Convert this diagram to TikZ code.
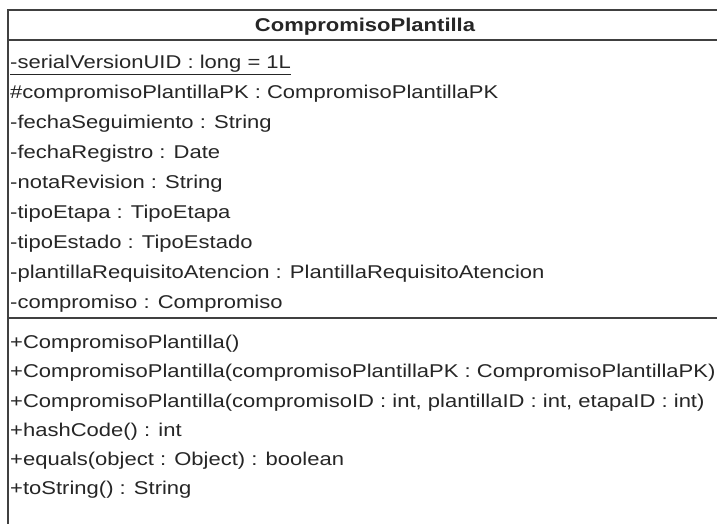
\documentclass[tikz,border=0pt]{standalone}
\usepackage{fontspec}
\setmainfont[FakeStretch=1.19]{Liberation Sans}
\usepackage{tikz}

\tikzset{
  member/.style={anchor=base west,inner sep=0pt,text=black!85},
  rule/.style={line width=1.6pt,draw=black!75}
}

\begin{document}
\begin{tikzpicture}[x=1pt,y=1pt]
        \useasboundingbox (0,0) rectangle (717,-524);
        \fill[white] (0,0) rectangle (717,-524);
        \begin{scope}
        \clip (0,0) rectangle (717,-524);
        \draw[rule] (725,-10) -- (8,-10) -- (8,-540);
        \draw[rule] (8,-40) -- (725,-40);
        \draw[rule] (8,-318) -- (725,-318);
        \end{scope}
        \fontsize{18.5}{22}\selectfont
        \node[member,anchor=base] (title) at (365,-31.6) {\bfseries CompromisoPlantilla};
        \node[member] (attr1) at (10,-68.6) {\underline{-serialVersionUID : long = 1L}};
        \node[member] (attr2) at (10,-98.6) {\#compromisoPlantillaPK : CompromisoPlantillaPK};
        \node[member] (attr3) at (10,-128.6) {-fechaSeguimiento : String};
        \node[member] (attr4) at (10,-158.6) {-fechaRegistro : Date};
        \node[member] (attr5) at (10,-188.6) {-notaRevision : String};
        \node[member] (attr6) at (10,-218.6) {-tipoEtapa : TipoEtapa};
        \node[member] (attr7) at (10,-248.6) {-tipoEstado : TipoEstado};
        \node[member] (attr8) at (10,-278.6) {-plantillaRequisitoAtencion : PlantillaRequisitoAtencion};
        \node[member] (attr9) at (10,-308.6) {-compromiso : Compromiso};
        \node[member] (op1) at (10,-348.6) {+CompromisoPlantilla()};
        \node[member] (op2) at (10,-377.8) {+CompromisoPlantilla(compromisoPlantillaPK : CompromisoPlantillaPK)};
        \node[member] (op3) at (10,-407) {+CompromisoPlantilla(compromisoID : int, plantillaID : int, etapaID : int)};
        \node[member] (op4) at (10,-436.2) {+hashCode() : int};
        \node[member] (op5) at (10,-465.4) {+equals(object : Object) : boolean};
        \node[member] (op6) at (10,-494.6) {+toString() : String};
    \end{tikzpicture}
\end{document}
